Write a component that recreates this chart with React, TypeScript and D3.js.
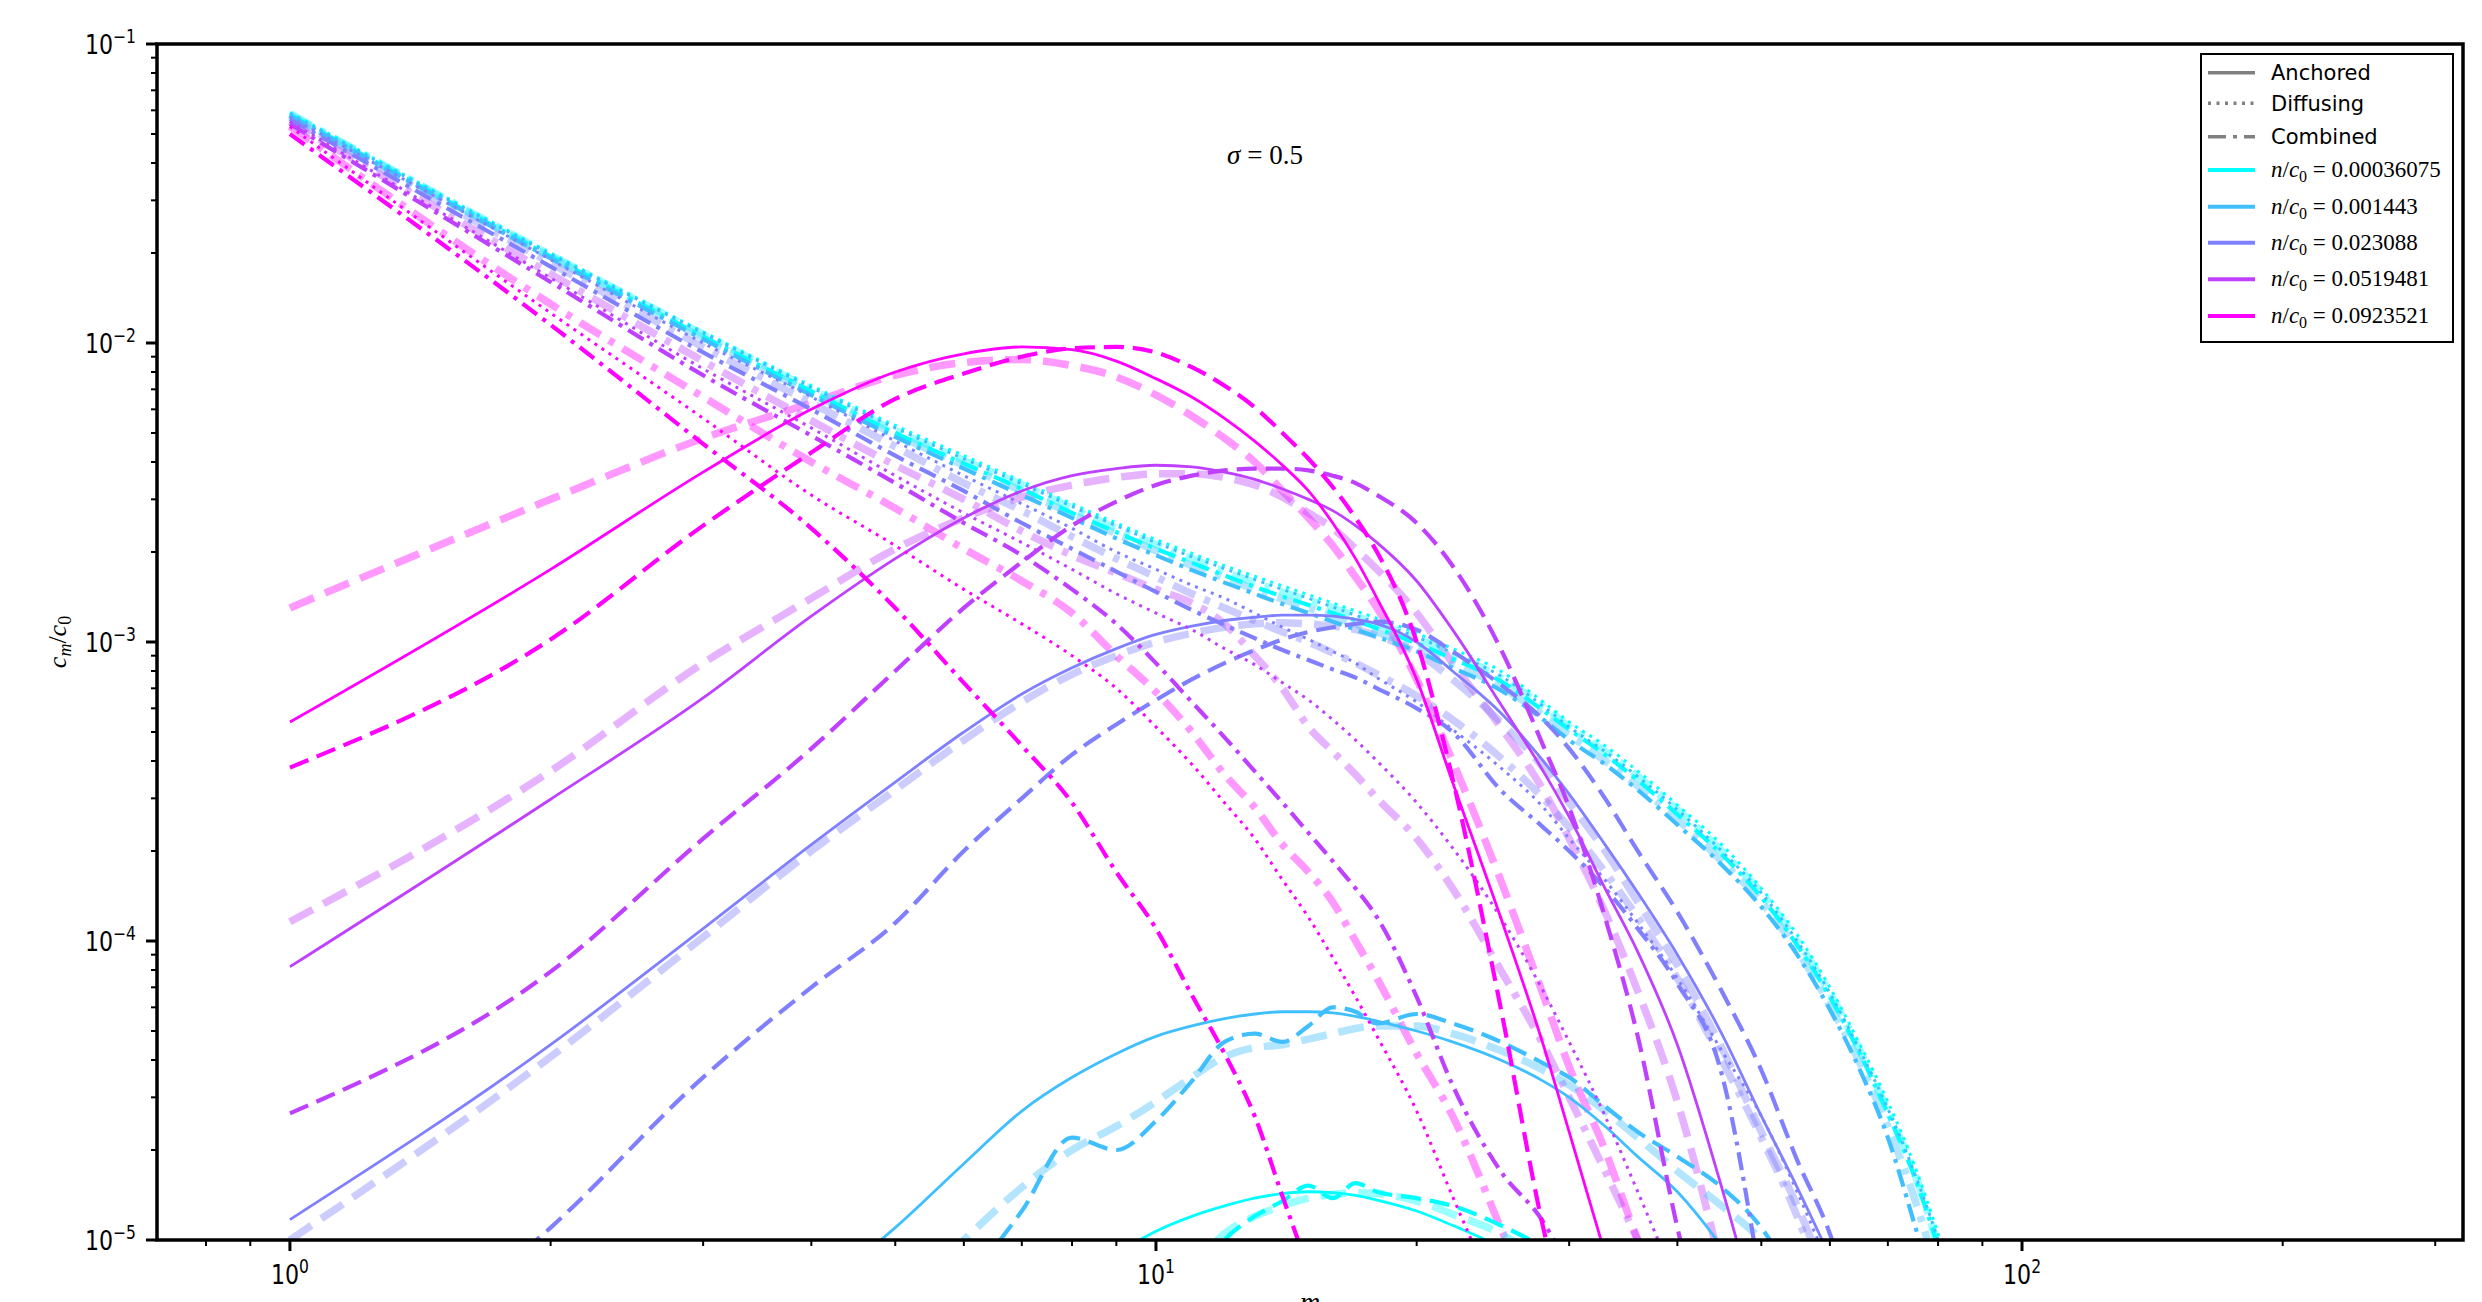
import React from "react";
import * as d3 from "d3";

const W = 2482;
const H = 1302;
const PLOT = { left: 157, right: 2463, top: 44, bottom: 1240 };

// m values shared by every curve (index i of a series is mGrid[i])
const mGrid = [1, 2, 3, 4, 5, 6, 7, 8, 9, 10, 11, 12, 13, 14, 15, 16, 17, 18, 20, 22, 25, 28, 30, 33, 36, 40, 45, 50, 55, 60, 65, 70, 75, 80, 85];
const _ = null;

// legend entries
const nLabels = ["0.00036075", "0.001443", "0.023088", "0.0519481", "0.0923521"];
const nColors = ["#00ffff", "#40bfff", "#8080ff", "#bf40ff", "#ff00ff"];
const styleLabels = ["Anchored", "Diffusing", "Combined"];

// n/c0 = 0.0923521 (magenta)
const magSolid = [5.4e-4, 1.75e-3, 3.7e-3, 6.0e-3, 8.0e-3, 9.2e-3, 9.7e-3, 9.5e-3, 8.7e-3, 7.6e-3, 6.6e-3, 5.6e-3, 4.7e-3, 3.9e-3, 3.2e-3, 2.5e-3, 1.9e-3, 1.4e-3, 7.5e-4, 3.4e-4, 1.2e-4, 4.5e-5, 2.3e-5, 9e-6];
const magDashed = [3.8e-4, 1.02e-3, 2.45e-3, 4.3e-3, 6.5e-3, 7.9e-3, 9.0e-3, 9.6e-3, 9.7e-3, 9.3e-3, 8.3e-3, 7.2e-3, 6.1e-3, 5.0e-3, 4.1e-3, 3.3e-3, 2.6e-3, 2.0e-3, 1.0e-3, 3.5e-4, 6e-5, 1.1e-5, 5e-6];
const magPaleDashed = [1.3e-3, 3.0e-3, 4.8e-3, 6.3e-3, 7.8e-3, 8.6e-3, 8.8e-3, 8.4e-3, 7.7e-3, 6.7e-3, 5.7e-3, 4.8e-3, 4.0e-3, 3.2e-3, 2.6e-3, 2.1e-3, 1.65e-3, 1.3e-3, 7.5e-4, 4.0e-4, 1.6e-4, 6.6e-5, 3.8e-5, 2.0e-5, 1.0e-5, 5e-6];
const magDotted = [5.3e-2, 1.26e-2, 5.6e-3, 3.1e-3, 2.1e-3, 1.5e-3, 1.15e-3, 9e-4, 7e-4, 5.2e-4, 3.9e-4, 2.9e-4, 2.2e-4, 1.6e-4, 1.2e-4, 8.8e-5, 6.5e-5, 4.8e-5, 2.7e-5, 1.4e-5, 6e-6];
const magDashDot = [5.0e-2, 1.15e-2, 4.6e-3, 2.4e-3, 1.3e-3, 7.3e-4, 4.5e-4, 2.9e-4, 1.7e-4, 1.1e-4, 6.6e-5, 4.2e-5, 2.6e-5, 1.4e-5, 8e-6];
const magPaleDashDot = [5.3e-2, 1.35e-2, 6.6e-3, 4.0e-3, 2.8e-3, 2.05e-3, 1.6e-3, 1.25e-3, 9.0e-4, 6.8e-4, 5.0e-4, 3.6e-4, 2.8e-4, 2.1e-4, 1.7e-4, 1.35e-4, 1.0e-4, 7.5e-5, 4.2e-5, 2.6e-5, 1.1e-5, 5e-6];

// n/c0 = 0.0519481 (purple)
const purSolid = [8.2e-5, 2.98e-4, 6.5e-4, 1.22e-3, 1.9e-3, 2.6e-3, 3.2e-3, 3.6e-3, 3.8e-3, 3.9e-3, 3.85e-3, 3.7e-3, 3.5e-3, 3.25e-3, 3.0e-3, 2.75e-3, 2.45e-3, 2.15e-3, 1.6e-3, 1.1e-3, 6.2e-4, 3.7e-4, 2.6e-4, 1.5e-4, 9.2e-5, 4.5e-5, 1.5e-5, 5e-6];
const purPaleDashed = [1.16e-4, 3.7e-4, 8.5e-4, 1.4e-3, 2.05e-3, 2.6e-3, 3.05e-3, 3.35e-3, 3.55e-3, 3.65e-3, 3.65e-3, 3.55e-3, 3.35e-3, 3.05e-3, 2.7e-3, 2.4e-3, 2.05e-3, 1.75e-3, 1.25e-3, 8.5e-4, 5.2e-4, 3.2e-4, 2.2e-4, 1.25e-4, 6.8e-5, 2.9e-5, 8e-6];
const purDashed = [2.65e-5, 7.9e-5, 2.2e-4, 4.4e-4, 8.0e-4, 1.3e-3, 1.85e-3, 2.45e-3, 2.95e-3, 3.35e-3, 3.6e-3, 3.75e-3, 3.8e-3, 3.8e-3, 3.75e-3, 3.6e-3, 3.4e-3, 3.1e-3, 2.5e-3, 1.8e-3, 9.5e-4, 4.5e-4, 2.8e-4, 1.2e-4, 4.8e-5, 1.1e-5, 3e-6];
const purDotted = [5.5e-2, 1.65e-2, 8.2e-3, 5.2e-3, 3.6e-3, 2.7e-3, 2.15e-3, 1.75e-3, 1.45e-3, 1.25e-3, 1.1e-3, 9.5e-4, 8.4e-4, 7.3e-4, 6.4e-4, 5.5e-4, 4.7e-4, 4.0e-4, 2.9e-4, 2.05e-4, 1.2e-4, 6.8e-5, 4.6e-5, 2.6e-5, 1.45e-5, 7e-6];
const purDashDot = [5.4e-2, 1.6e-2, 7.8e-3, 4.9e-3, 3.4e-3, 2.5e-3, 1.95e-3, 1.5e-3, 1.15e-3, 8.5e-4, 6.3e-4, 4.8e-4, 3.7e-4, 2.9e-4, 2.3e-4, 1.85e-4, 1.5e-4, 1.2e-4, 6.5e-5, 3.3e-5, 1.7e-5, 1.15e-5, 8e-6];
const purPaleDashDot = [5.5e-2, 1.7e-2, 8.7e-3, 5.5e-3, 3.9e-3, 3.0e-3, 2.35e-3, 1.95e-3, 1.7e-3, 1.5e-3, 1.35e-3, 1.15e-3, 9e-4, 7e-4, 5.2e-4, 4.3e-4, 3.6e-4, 3.0e-4, 2.2e-4, 1.5e-4, 8e-5, 4.5e-5, 3.0e-5, 1.7e-5, 1.0e-5, 5e-6];

// n/c0 = 0.023088 (periwinkle)
const perSolid = [1.17e-5, 4.5e-5, 1.1e-4, 2.1e-4, 3.4e-4, 5.0e-4, 6.7e-4, 8.2e-4, 9.5e-4, 1.06e-3, 1.13e-3, 1.18e-3, 1.21e-3, 1.23e-3, 1.23e-3, 1.22e-3, 1.19e-3, 1.15e-3, 1.0e-3, 8.0e-4, 5.8e-4, 4.0e-4, 3.1e-4, 2.1e-4, 1.45e-4, 9e-5, 4.9e-5, 2.6e-5, 1.5e-5, 8.8e-6];
const perPaleDashed = [1.0e-5, 4.1e-5, 1.03e-4, 2.0e-4, 3.2e-4, 4.7e-4, 6.3e-4, 7.8e-4, 9.0e-4, 1.0e-3, 1.07e-3, 1.12e-3, 1.15e-3, 1.16e-3, 1.15e-3, 1.13e-3, 1.1e-3, 1.05e-3, 9.2e-4, 7.5e-4, 5.4e-4, 3.8e-4, 2.9e-4, 2.0e-4, 1.35e-4, 8.3e-5, 4.4e-5, 2.3e-5, 1.3e-5, 7e-6];
const perDashed = [2.5e-6, 1.1e-5, 3.5e-5, 7.0e-5, 1.15e-4, 2.0e-4, 3.0e-4, 4.2e-4, 5.3e-4, 6.4e-4, 7.5e-4, 8.5e-4, 9.4e-4, 1.02e-3, 1.08e-3, 1.12e-3, 1.15e-3, 1.17e-3, 1.1e-3, 9.3e-4, 7.2e-4, 5.5e-4, 4.4e-4, 3.0e-4, 2.0e-4, 1.25e-4, 6.8e-5, 3.7e-5, 1.85e-5, 1.05e-5, 5e-6];
const perDotted = [5.7e-2, 1.9e-2, 1.0e-2, 6.6e-3, 4.7e-3, 3.6e-3, 2.9e-3, 2.4e-3, 2.0e-3, 1.75e-3, 1.55e-3, 1.4e-3, 1.25e-3, 1.12e-3, 1.02e-3, 9.3e-4, 8.5e-4, 7.6e-4, 6.3e-4, 5.1e-4, 3.8e-4, 2.8e-4, 2.2e-4, 1.6e-4, 1.15e-4, 7.5e-5, 4.3e-5, 2.6e-5, 1.45e-5, 8e-6];
const perDashDot = [5.6e-2, 1.8e-2, 9.3e-3, 6.0e-3, 4.2e-3, 3.2e-3, 2.5e-3, 2.05e-3, 1.72e-3, 1.47e-3, 1.28e-3, 1.14e-3, 1.03e-3, 9.4e-4, 8.7e-4, 8.1e-4, 7.6e-4, 7.0e-4, 6.0e-4, 5.0e-4, 3.2e-4, 2.4e-4, 2.0e-4, 1.5e-4, 1.1e-4, 7.2e-5, 3.6e-5, 7e-6];
const perPaleDashDot = [5.7e-2, 1.85e-2, 9.7e-3, 6.3e-3, 4.5e-3, 3.4e-3, 2.75e-3, 2.25e-3, 1.9e-3, 1.65e-3, 1.45e-3, 1.3e-3, 1.18e-3, 1.08e-3, 1.0e-3, 9.2e-4, 8.5e-4, 7.8e-4, 6.6e-4, 5.5e-4, 4.1e-4, 3.0e-4, 2.4e-4, 1.7e-4, 1.2e-4, 7.5e-5, 4.0e-5, 2.2e-5, 1.2e-5, 6e-6];

// n/c0 = 0.001443 (light blue)
const lbSolid = [_, _, _, 6.5e-6, 1.1e-5, 1.8e-5, 2.7e-5, 3.5e-5, 4.2e-5, 4.8e-5, 5.2e-5, 5.5e-5, 5.7e-5, 5.8e-5, 5.8e-5, 5.75e-5, 5.6e-5, 5.4e-5, 5.0e-5, 4.6e-5, 4.0e-5, 3.4e-5, 3.0e-5, 2.4e-5, 1.9e-5, 1.45e-5, 9.5e-6, 6e-6];
const lbDashed = [_, _, _, _, _, 7e-6, 1.25e-5, 2.2e-5, 2.0e-5, 2.5e-5, 3.4e-5, 4.6e-5, 4.9e-5, 4.6e-5, 5.2e-5, 6.0e-5, 5.8e-5, 5.3e-5, 5.7e-5, 5.3e-5, 4.6e-5, 3.9e-5, 3.5e-5, 2.8e-5, 2.3e-5, 1.9e-5, 1.5e-5, 1.1e-5, 7e-6];
const lbPaleDashed = [_, _, _, _, 6e-6, 1.0e-5, 1.5e-5, 2.0e-5, 2.4e-5, 2.9e-5, 3.5e-5, 4.1e-5, 4.4e-5, 4.5e-5, 4.7e-5, 4.9e-5, 5.1e-5, 5.2e-5, 5.2e-5, 4.9e-5, 4.3e-5, 3.7e-5, 3.3e-5, 2.7e-5, 2.2e-5, 1.7e-5, 1.3e-5, 1.0e-5, 7e-6];
const lbDotted = [5.85e-2, 1.98e-2, 1.08e-2, 7.1e-3, 5.2e-3, 4.1e-3, 3.38e-3, 2.84e-3, 2.45e-3, 2.15e-3, 1.93e-3, 1.76e-3, 1.62e-3, 1.5e-3, 1.4e-3, 1.31e-3, 1.23e-3, 1.16e-3, 1.04e-3, 9.2e-4, 7.7e-4, 6.1e-4, 5.2e-4, 4.3e-4, 3.55e-4, 2.75e-4, 2.0e-4, 1.45e-4, 1.0e-4, 6.7e-5, 4.3e-5, 2.75e-5, 1.7e-5, 1.0e-5, 5.5e-6];
const lbDashDot = [5.75e-2, 1.92e-2, 1.03e-2, 6.7e-3, 4.85e-3, 3.8e-3, 3.1e-3, 2.6e-3, 2.22e-3, 1.95e-3, 1.74e-3, 1.58e-3, 1.45e-3, 1.34e-3, 1.25e-3, 1.17e-3, 1.1e-3, 1.04e-3, 9.3e-4, 8.2e-4, 6.9e-4, 5.5e-4, 4.7e-4, 3.9e-4, 3.2e-4, 2.45e-4, 1.8e-4, 1.3e-4, 9.0e-5, 5.9e-5, 3.7e-5, 2.2e-5, 1.15e-5, 6e-6];
const lbPaleDashDot = [5.8e-2, 1.94e-2, 1.04e-2, 6.8e-3, 4.95e-3, 3.9e-3, 3.2e-3, 2.68e-3, 2.3e-3, 2.02e-3, 1.8e-3, 1.64e-3, 1.5e-3, 1.39e-3, 1.3e-3, 1.22e-3, 1.15e-3, 1.08e-3, 9.6e-4, 8.5e-4, 7.1e-4, 5.7e-4, 4.9e-4, 4.0e-4, 3.3e-4, 2.55e-4, 1.85e-4, 1.35e-4, 9.3e-5, 6.1e-5, 3.9e-5, 2.4e-5, 1.4e-5, 7.5e-6];

// n/c0 = 0.00036075 (cyan)
const cySolid = [_, _, _, _, _, _, _, _, 9e-6, 1.07e-5, 1.2e-5, 1.3e-5, 1.38e-5, 1.43e-5, 1.45e-5, 1.44e-5, 1.41e-5, 1.36e-5, 1.25e-5, 1.12e-5, 9.5e-6];
const cyDashed = [_, _, _, _, _, _, _, _, _, _, 7e-6, 1.0e-5, 1.2e-5, 1.35e-5, 1.52e-5, 1.38e-5, 1.55e-5, 1.45e-5, 1.38e-5, 1.3e-5, 1.12e-5, 9.5e-6];
const cyPaleDashed = [_, _, _, _, _, _, _, _, _, _, 8e-6, 1.05e-5, 1.2e-5, 1.3e-5, 1.38e-5, 1.42e-5, 1.44e-5, 1.43e-5, 1.35e-5, 1.22e-5, 1.05e-5, 8.5e-6];
const cyDotted = [5.9e-2, 2.0e-2, 1.09e-2, 7.2e-3, 5.3e-3, 4.2e-3, 3.45e-3, 2.9e-3, 2.5e-3, 2.2e-3, 1.98e-3, 1.8e-3, 1.66e-3, 1.54e-3, 1.44e-3, 1.35e-3, 1.27e-3, 1.2e-3, 1.07e-3, 9.5e-4, 8.0e-4, 6.3e-4, 5.4e-4, 4.5e-4, 3.7e-4, 2.85e-4, 2.1e-4, 1.5e-4, 1.05e-4, 7.0e-5, 4.5e-5, 2.9e-5, 1.8e-5, 1.05e-5, 6e-6];
const cyDashDot = [5.8e-2, 1.95e-2, 1.05e-2, 6.9e-3, 5.0e-3, 3.95e-3, 3.25e-3, 2.7e-3, 2.33e-3, 2.05e-3, 1.84e-3, 1.67e-3, 1.53e-3, 1.42e-3, 1.33e-3, 1.25e-3, 1.18e-3, 1.11e-3, 9.9e-4, 8.8e-4, 7.4e-4, 5.9e-4, 5.1e-4, 4.2e-4, 3.45e-4, 2.65e-4, 1.95e-4, 1.4e-4, 9.7e-5, 6.5e-5, 4.2e-5, 2.65e-5, 1.65e-5, 9.5e-6, 5e-6];
const cyPaleDashDot = [5.85e-2, 1.97e-2, 1.07e-2, 7.0e-3, 5.1e-3, 4.05e-3, 3.35e-3, 2.8e-3, 2.4e-3, 2.12e-3, 1.9e-3, 1.72e-3, 1.58e-3, 1.47e-3, 1.38e-3, 1.3e-3, 1.22e-3, 1.15e-3, 1.03e-3, 9.1e-4, 7.6e-4, 6.1e-4, 5.2e-4, 4.3e-4, 3.55e-4, 2.75e-4, 2.0e-4, 1.45e-4, 1.0e-4, 6.7e-5, 4.3e-5, 2.7e-5, 1.7e-5, 9.5e-6, 5e-6];

const STYLES = {
  solid: { w: 2.8, dash: undefined, op: 1 },
  dashed: { w: 4.2, dash: "20 9", op: 1 },
  paleDashed: { w: 7.5, dash: "26 12", op: 0.4 },
  dotted: { w: 3, dash: "3 5.5", op: 1 },
  dashDot: { w: 4.2, dash: "18 7 4 7", op: 1 },
  paleDashDot: { w: 7.5, dash: "24 10 6 10", op: 0.4 },
};

// drawing order: pale simulation curves underneath
const series = [
  { c: 4, s: "paleDashed", v: magPaleDashed },
  { c: 4, s: "paleDashDot", v: magPaleDashDot },
  { c: 3, s: "paleDashed", v: purPaleDashed },
  { c: 3, s: "paleDashDot", v: purPaleDashDot },
  { c: 2, s: "paleDashed", v: perPaleDashed },
  { c: 2, s: "paleDashDot", v: perPaleDashDot },
  { c: 1, s: "paleDashed", v: lbPaleDashed },
  { c: 1, s: "paleDashDot", v: lbPaleDashDot },
  { c: 0, s: "paleDashed", v: cyPaleDashed },
  { c: 0, s: "paleDashDot", v: cyPaleDashDot },
  { c: 0, s: "solid", v: cySolid },
  { c: 0, s: "dashed", v: cyDashed },
  { c: 0, s: "dotted", v: cyDotted },
  { c: 0, s: "dashDot", v: cyDashDot },
  { c: 1, s: "solid", v: lbSolid },
  { c: 1, s: "dashed", v: lbDashed },
  { c: 1, s: "dotted", v: lbDotted },
  { c: 1, s: "dashDot", v: lbDashDot },
  { c: 2, s: "solid", v: perSolid },
  { c: 2, s: "dashed", v: perDashed },
  { c: 2, s: "dotted", v: perDotted },
  { c: 2, s: "dashDot", v: perDashDot },
  { c: 3, s: "solid", v: purSolid },
  { c: 3, s: "dashed", v: purDashed },
  { c: 3, s: "dotted", v: purDotted },
  { c: 3, s: "dashDot", v: purDashDot },
  { c: 4, s: "solid", v: magSolid },
  { c: 4, s: "dashed", v: magDashed },
  { c: 4, s: "dotted", v: magDotted },
  { c: 4, s: "dashDot", v: magDashDot },
];

const TICK_FONT = "DejaVu Sans, sans-serif";
const MATH_FONT = "Liberation Serif, DejaVu Serif, serif";

function Pow10({ e }: { e: number }) {
  return (
    <>
      10<tspan dy={-11} fontSize={19}>{e < 0 ? "\u2212" + -e : String(e)}</tspan>
    </>
  );
}

export default function App() {
  const x = d3.scaleLog().domain([0.7023, 323]).range([PLOT.left, PLOT.right]);
  const y = d3.scaleLog().domain([1e-5, 1e-1]).range([PLOT.bottom, PLOT.top]);

  const line = d3
    .line<[number, number | null]>()
    .defined((d) => d[1] != null && (d[1] as number) > 0)
    .x((d) => x(d[0]))
    .y((d) => y(d[1] as number))
    .curve(d3.curveMonotoneX);

  const isMajor = (t: number) => Math.abs(Math.log10(t) - Math.round(Math.log10(t))) < 1e-6;
  const xTicks = x.ticks();
  const yTicks = y.ticks();

  const legendRows = [72.7, 103.3, 136.7, 170, 206.7, 242.7, 279.3, 316];
  const legendStyles = ["solid", "dotted", "dashDot"];

  return (
    <svg width={W} height={H} style={{ position: "absolute", left: 0, top: 0, background: "#fff" }}>
      <defs>
        <clipPath id="plotClip">
          <rect x={PLOT.left} y={PLOT.top} width={PLOT.right - PLOT.left} height={PLOT.bottom - PLOT.top} />
        </clipPath>
      </defs>
      <rect x={0} y={0} width={W} height={H} fill="#fff" />

      <g clipPath="url(#plotClip)" fill="none">
        {series.map((sr, i) => {
          const st = (STYLES as any)[sr.s];
          const pts = mGrid.map((m, k) => [m, sr.v[k] ?? null] as [number, number | null]);
          return (
            <path
              key={i}
              d={line(pts) || ""}
              stroke={nColors[sr.c]}
              strokeOpacity={st.op}
              strokeWidth={st.w}
              strokeDasharray={st.dash}
              strokeLinejoin="round"
            />
          );
        })}
      </g>

      {/* ticks */}
      <g stroke="#000">
        {yTicks.map((t, i) => (
          <line key={"yt" + i} x1={PLOT.left} x2={PLOT.left - (isMajor(t) ? 11 : 6)} y1={y(t)} y2={y(t)} strokeWidth={isMajor(t) ? 3 : 2} />
        ))}
        {xTicks.map((t, i) => (
          <line key={"xt" + i} x1={x(t)} x2={x(t)} y1={PLOT.bottom} y2={PLOT.bottom + (isMajor(t) ? 11 : 6)} strokeWidth={isMajor(t) ? 3 : 2} />
        ))}
      </g>
      <rect x={PLOT.left} y={PLOT.top} width={PLOT.right - PLOT.left} height={PLOT.bottom - PLOT.top} fill="none" stroke="#000" strokeWidth={3.5} />

      {/* tick labels */}
      <g fontFamily={TICK_FONT} fontSize={27} fill="#000">
        {yTicks.filter(isMajor).map((t, i) => (
          <g key={"yl" + i} transform={`translate(136,${y(t) + 10}) scale(0.82,1)`}>
            <text x={0} y={0} textAnchor="end">
              <Pow10 e={Math.round(Math.log10(t))} />
            </text>
          </g>
        ))}
        {xTicks.filter(isMajor).map((t, i) => (
          <g key={"xl" + i} transform={`translate(${x(t)},${PLOT.bottom + 44}) scale(0.82,1)`}>
            <text x={0} y={0} textAnchor="middle">
              <Pow10 e={Math.round(Math.log10(t))} />
            </text>
          </g>
        ))}
      </g>

      {/* axis labels and title */}
      <text transform={`translate(66,${(PLOT.top + PLOT.bottom) / 2}) rotate(-90)`} textAnchor="middle" fontFamily={MATH_FONT} fontSize={26}>
        <tspan fontStyle="italic">c</tspan>
        <tspan fontStyle="italic" fontSize={18} dy={5}>m</tspan>
        <tspan dy={-5}>/</tspan>
        <tspan fontStyle="italic">c</tspan>
        <tspan fontSize={18} dy={5}>0</tspan>
      </text>
      <text x={(PLOT.left + PLOT.right) / 2} y={1311} textAnchor="middle" fontFamily={MATH_FONT} fontStyle="italic" fontSize={28}>m</text>
      <text x={1265} y={164} textAnchor="middle" fontFamily={MATH_FONT} fontSize={27}>
        <tspan fontStyle="italic">σ</tspan> = 0.5
      </text>

      {/* legend */}
      <g>
        <rect x={2201} y={54} width={252} height={288} fill="#fff" stroke="#000" strokeWidth={2} />
        {styleLabels.map((lab, i) => {
          const st = (STYLES as any)[legendStyles[i]];
          const yy = legendRows[i];
          return (
            <g key={"ls" + i}>
              <line x1={2208} x2={2255} y1={yy} y2={yy} stroke="#808080" strokeWidth={3.5} strokeDasharray={st.dash} />
              <text x={2271} y={yy + 7.5} fontFamily={TICK_FONT} fontSize={21} fill="#000">{lab}</text>
            </g>
          );
        })}
        {nLabels.map((lab, i) => {
          const yy = legendRows[i + 3];
          return (
            <g key={"ln" + i}>
              <line x1={2208} x2={2255} y1={yy} y2={yy} stroke={nColors[i]} strokeWidth={4} />
              <text x={2271} y={yy + 7} fontFamily={MATH_FONT} fontSize={23} fill="#000">
                <tspan fontStyle="italic">n</tspan>
                <tspan>/</tspan>
                <tspan fontStyle="italic">c</tspan>
                <tspan fontSize={16} dy={5}>0</tspan>
                <tspan dy={-5}>{" = " + lab}</tspan>
              </text>
            </g>
          );
        })}
      </g>
    </svg>
  );
}
